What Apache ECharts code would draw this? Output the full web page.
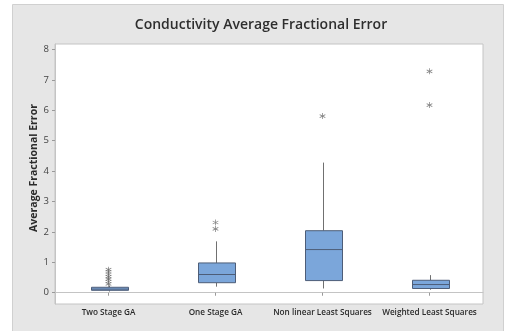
<!DOCTYPE html>
<html>
<head>
<meta charset="utf-8">
<script src="https://cdn.jsdelivr.net/npm/echarts@6/dist/echarts.min.js"></script>
<style>html,body{margin:0;padding:0;background:#fff;}#c{width:508px;height:331px;}</style>
</head>
<body>
<div id="c"></div>
<script>
var categories = ['Two Stage GA', 'One Stage GA', 'Non linear Least Squares', 'Weighted Least Squares'];
var whiskerLow = [0.04, 0.20, 0.14, 0.10];
var q1 = [0.08, 0.33, 0.40, 0.14];
var median = [0.12, 0.60, 1.42, 0.27];
var q3 = [0.18, 0.98, 2.04, 0.41];
var whiskerHigh = [0.24, 1.69, 4.28, 0.58];
var outliersTwoStage = [0.29, 0.37, 0.45, 0.53, 0.61, 0.69, 0.76];
var outliersOneStage = [2.10, 2.31];
var outliersNonLinear = [5.81];
var outliersWeighted = [6.17, 7.28];
var yTicks = [0, 1, 2, 3, 4, 5, 6, 7, 8];

var outlierLists = [outliersTwoStage, outliersOneStage, outliersNonLinear, outliersWeighted];
var boxData = categories.map(function (c, i) {
  return [i, whiskerLow[i], q1[i], median[i], q3[i], whiskerHigh[i]];
});
var outlierData = [];
outlierLists.forEach(function (list, i) {
  list.forEach(function (v) { outlierData.push([i, v]); });
});

var star = 'path://M4.4,0L5.6,0L5.6,10L4.4,10Z M0.97,1.98L9.63,6.98L9.03,8.02L0.37,3.02Z M0.37,6.98L9.03,1.98L9.63,3.02L0.97,8.02Z';
var FONT = '"Open Sans", "Noto Sans", sans-serif';

var chart = echarts.init(document.getElementById('c'), null, {renderer: 'canvas'});
chart.setOption({
  animation: false,
  backgroundColor: '#ffffff',
  graphic: [{
    type: 'rect', z: -10, silent: true,
    shape: {x: 12.5, y: 4.5, width: 491, height: 340},
    style: {fill: '#e6e6e6', stroke: '#d0d0d0', lineWidth: 1}
  }, {
    type: 'text', silent: true, z: 10,
    x: 34, y: 168, rotation: Math.PI / 2,
    style: {
      text: 'Average Fractional Error', align: 'center', verticalAlign: 'middle',
      font: 'bold 10.5px "Open Sans", "Noto Sans", sans-serif', fill: '#2b2b2b'
    }
  }],
  title: {
    text: 'Conductivity Average Fractional Error',
    left: 256, top: 13, textAlign: 'center',
    textStyle: {fontFamily: FONT, fontSize: 14, fontWeight: 600, color: '#2e2e2e'}
  },
  grid: {
    left: 55, right: 25, top: 44, bottom: 27,
    show: true, backgroundColor: '#ffffff', borderColor: '#c4c4c4', borderWidth: 1
  },
  xAxis: {
    type: 'category', data: categories, boundaryGap: true,
    axisLine: {show: true, lineStyle: {color: '#c4c4c4'}},
    axisTick: {show: true, alignWithLabel: true, length: 3, lineStyle: {color: '#999'}},
    axisLabel: {fontFamily: FONT, fontSize: 8.2, fontWeight: 600, color: '#2b2b2b', margin: 5, interval: 0}
  },
  yAxis: {
    type: 'value', min: -0.37, max: 8.18,
    splitLine: {show: false},
    axisLine: {show: true, lineStyle: {color: '#c4c4c4'}},
    axisTick: {show: true, length: 3, customValues: yTicks, lineStyle: {color: '#999'}},
    axisLabel: {customValues: yTicks, fontFamily: FONT, fontSize: 9.5, color: '#444', margin: 6}
  },
  series: [{
    type: 'custom',
    data: boxData,
    encode: {x: 0, y: [1, 2, 3, 4, 5]},
    renderItem: function (params, api) {
      var idx = api.value(0);
      var pLow = api.coord([idx, api.value(1)]);
      var pQ1 = api.coord([idx, api.value(2)]);
      var pMed = api.coord([idx, api.value(3)]);
      var pQ3 = api.coord([idx, api.value(4)]);
      var pHigh = api.coord([idx, api.value(5)]);
      var bw = api.size([1, 0])[0] * 0.34;
      var x = Math.round(pQ1[0]) + 0.5;
      var left = Math.round(x - bw / 2) + 0.5;
      var right = Math.round(x + bw / 2) + 0.5;
      var wStyle = {stroke: '#707070', lineWidth: 1};
      var bStyle = {stroke: '#4d5d78', lineWidth: 1};
      return {
        type: 'group',
        children: [
          {type: 'line', shape: {x1: x, y1: pQ3[1], x2: x, y2: pHigh[1]}, style: wStyle},
          {type: 'line', shape: {x1: x, y1: pQ1[1], x2: x, y2: pLow[1]}, style: wStyle},
          {type: 'rect', shape: {x: left, y: pQ3[1], width: right - left, height: pQ1[1] - pQ3[1]},
            style: {fill: '#7ba6da', stroke: '#4d5d78', lineWidth: 1}},
          {type: 'line', shape: {x1: left, y1: pMed[1], x2: right, y2: pMed[1]}, style: bStyle}
        ]
      };
    }
  }, {
    type: 'scatter',
    data: outlierData,
    symbol: star,
    symbolSize: [6, 6],
    itemStyle: {color: '#666666'}
  }]
});
</script>
</body>
</html>
